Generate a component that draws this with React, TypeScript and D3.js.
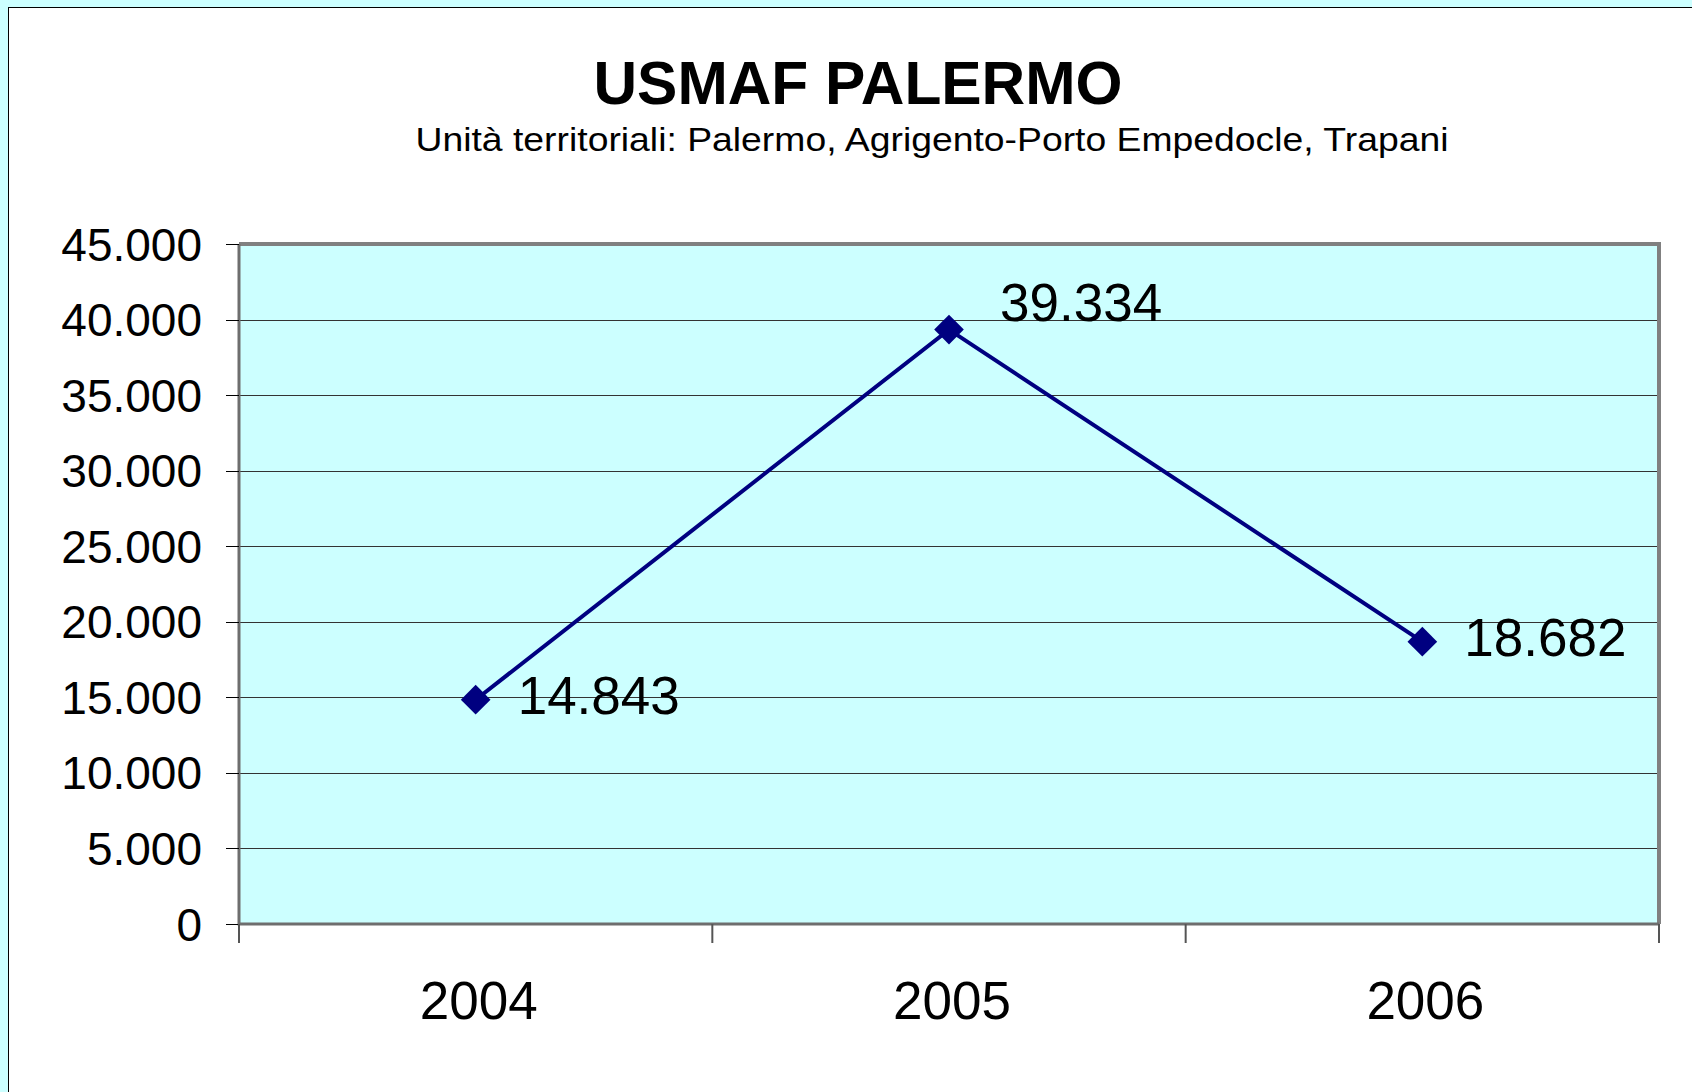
import React, { useEffect, useRef } from "react";
import * as d3 from "d3";

const years = ["2004", "2005", "2006"];
const values = [14843, 39334, 18682];
const valueLabels = ["14.843", "39.334", "18.682"];
const labelDx = [42, 51, 42];
const labelDy = [-5, -28, -5];
const yTicks = [0, 5000, 10000, 15000, 20000, 25000, 30000, 35000, 40000, 45000];
const title = "USMAF PALERMO";
const subtitle = "Unità territoriali: Palermo, Agrigento-Porto Empedocle, Trapani";

const W = 1692;
const H = 1092;
const plot = { left: 239, right: 1659, top: 244, bottom: 924 };

const fmt = (v: number) => (v === 0 ? "0" : d3.format(",")(v).replace(/,/g, "."));

export default function App() {
  const ref = useRef<SVGSVGElement | null>(null);

  useEffect(() => {
    const svg = d3.select(ref.current);
    svg.selectAll("*").remove();
    const font = "Liberation Sans, Arial, Helvetica, sans-serif";

    svg.append("rect").attr("width", W).attr("height", H).attr("fill", "#CCFFFF");
    svg.append("rect").attr("x", 8.5).attr("y", 7.5).attr("width", W + 10).attr("height", H + 10)
      .attr("fill", "#FFFFFF").attr("stroke", "#000").attr("stroke-width", 1);

    const x = d3.scaleBand().domain(years).range([plot.left, plot.right]).padding(0);
    const y = d3.scaleLinear().domain([0, 45000]).range([plot.bottom, plot.top]);

    // plot area
    svg.append("rect").attr("x", plot.left).attr("y", plot.top)
      .attr("width", plot.right - plot.left).attr("height", plot.bottom - plot.top)
      .attr("fill", "#CCFFFF");

    // gridlines
    svg.append("g").selectAll("line").data(yTicks.filter(t => t > 0 && t < 45000)).join("line")
      .attr("x1", plot.left).attr("x2", plot.right)
      .attr("y1", d => Math.round(y(d)) + 0.5).attr("y2", d => Math.round(y(d)) + 0.5)
      .attr("stroke", "#333").attr("stroke-width", 1);

    // frame (gray)
    svg.append("path")
      .attr("d", `M${plot.left},${plot.top}H${plot.right}V${plot.bottom}`)
      .attr("fill", "none").attr("stroke", "#808080").attr("stroke-width", 4);
    svg.append("path")
      .attr("d", `M${plot.left},${plot.top}V${plot.bottom}H${plot.right}`)
      .attr("fill", "none").attr("stroke", "#6e6e6e").attr("stroke-width", 3);

    // y ticks
    svg.append("g").selectAll("line").data(yTicks).join("line")
      .attr("x1", plot.left - 13).attr("x2", plot.left)
      .attr("y1", d => Math.round(y(d)) + 0.5).attr("y2", d => Math.round(y(d)) + 0.5)
      .attr("stroke", "#000").attr("stroke-width", 1);
    svg.append("g").selectAll("text").data(yTicks).join("text")
      .attr("x", 202).attr("y", d => y(d))
      .attr("dy", "0.36em")
      .attr("text-anchor", "end")
      .attr("font-family", font).attr("font-size", 46)
      .attr("fill", "#000")
      .text(d => fmt(d));

    // x ticks
    const bounds = [...years.map(d => x(d) as number), plot.right];
    svg.append("g").selectAll("line").data(bounds).join("line")
      .attr("x1", d => d).attr("x2", d => d)
      .attr("y1", plot.bottom).attr("y2", plot.bottom + 19)
      .attr("stroke", "#555").attr("stroke-width", 2);
    svg.append("g").selectAll("text").data(years).join("text")
      .attr("x", d => (x(d) as number) + x.bandwidth() / 2 + 3)
      .attr("y", 1019)
      .attr("text-anchor", "middle")
      .attr("font-family", font).attr("font-size", 53)
      .attr("fill", "#000")
      .text(d => d);

    // line
    const cx = (i: number) => (x(years[i]) as number) + x.bandwidth() / 2;
    const line = d3.line<number>().x((_, i) => cx(i)).y(d => y(d));
    svg.append("path").datum(values).attr("d", line)
      .attr("fill", "none").attr("stroke", "#000080").attr("stroke-width", 4);

    // markers
    svg.append("g").selectAll("path").data(values).join("path")
      .attr("transform", (d, i) => `translate(${cx(i)},${y(d)}) rotate(45)`)
      .attr("d", d3.symbol(d3.symbolSquare, 440)())
      .attr("fill", "#000080");

    // data labels
    svg.append("g").selectAll("text").data(values).join("text")
      .attr("x", (d, i) => cx(i) + labelDx[i])
      .attr("y", (d, i) => y(d) + labelDy[i])
      .attr("dy", "0.36em")
      .attr("font-family", font).attr("font-size", 53)
      .attr("fill", "#000")
      .text((d, i) => valueLabels[i]);

    // titles
    svg.append("text").attr("x", 858).attr("y", 104)
      .attr("text-anchor", "middle")
      .attr("font-family", font).attr("font-size", 62).attr("font-weight", "bold")
      .attr("textLength", 529).attr("lengthAdjust", "spacingAndGlyphs")
      .text(title);
    svg.append("text").attr("x", 932).attr("y", 151)
      .attr("text-anchor", "middle")
      .attr("font-family", font).attr("font-size", 33)
      .attr("textLength", 1033).attr("lengthAdjust", "spacingAndGlyphs")
      .text(subtitle);
  }, []);

  return (
    <>
      <style>{`body{margin:0;overflow:hidden}`}</style>
      <svg ref={ref} width={W} height={H} style={{ display: "block" }} />
    </>
  );
}
